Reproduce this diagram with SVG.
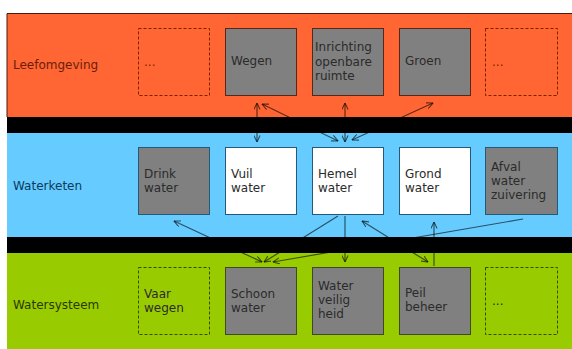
<svg xmlns="http://www.w3.org/2000/svg" width="572" height="349" viewBox="0 0 572 349">
<defs>
<style>
.lbl{font-family:"DejaVu Sans","Verdana",sans-serif;font-size:12px}
.bt{font-family:"DejaVu Sans","Verdana",sans-serif;font-size:12px;fill:#2b2b2b}
.gray{fill:#808080}
.white{fill:#ffffff}
.o{stroke:#5a2616;stroke-width:1}
.b{stroke:#24597a;stroke-width:1}
.g{stroke:#3e4a22;stroke-width:1}
.dash-o{fill:none;stroke:#7a2200;stroke-width:1;stroke-dasharray:3 2}
.dash-g{fill:none;stroke:#3a4800;stroke-width:1;stroke-dasharray:3 2}
.con{fill:none;stroke:#000;stroke-opacity:0.6;stroke-width:1.2}
</style>
<marker id="arr" viewBox="0 0 8 8" refX="7.5" refY="4" markerWidth="7" markerHeight="7" markerUnits="userSpaceOnUse" orient="auto-start-reverse">
<path d="M0,0.5 L7.5,4 L0,7.5" fill="none" stroke="#000" stroke-opacity="0.6" stroke-width="1.3"/>
</marker>
</defs>
<rect width="572" height="349" fill="#ffffff"/>
<g id="bands">
<rect x="7" y="13" width="565" height="104" fill="#ff6633"/>
<path d="M7,117 V13.5 H572" fill="none" stroke="#4a1a10" stroke-width="1"/>
<rect x="7" y="133" width="565" height="104" fill="#66ccff"/>
<rect x="7" y="253" width="565" height="96" fill="#99cc00"/>
</g>
<g id="connectors">
<line class="con" x1="257" y1="103" x2="257" y2="142" marker-start="url(#arr)" marker-end="url(#arr)"/>
<line class="con" x1="262" y1="104" x2="338" y2="141" marker-start="url(#arr)" marker-end="url(#arr)"/>
<line class="con" x1="345" y1="103" x2="345" y2="142" marker-start="url(#arr)" marker-end="url(#arr)"/>
<line class="con" x1="433" y1="103" x2="352" y2="140" marker-start="url(#arr)" marker-end="url(#arr)"/>
<line class="con" x1="174" y1="221" x2="262" y2="262" marker-start="url(#arr)" marker-end="url(#arr)"/>
<line class="con" x1="338" y1="216" x2="264" y2="262" marker-end="url(#arr)"/>
<line class="con" x1="345" y1="216" x2="345" y2="262" marker-end="url(#arr)"/>
<line class="con" x1="362" y1="221" x2="428" y2="262" marker-start="url(#arr)" marker-end="url(#arr)"/>
<line class="con" x1="434" y1="266" x2="434" y2="222" marker-end="url(#arr)"/>
<line class="con" x1="523" y1="219" x2="273" y2="262" marker-end="url(#arr)"/>
</g>
<g id="separators">
<rect x="7" y="117" width="565" height="16" fill="#000000"/>
<rect x="7" y="237" width="565" height="16" fill="#000000"/>
</g>
<g id="label-leefomgeving"><text class="lbl" x="13" y="69" fill="#6a1d0c">Leefomgeving</text></g>
<g id="label-waterketen"><text class="lbl" x="13" y="190" fill="#0b3a5c">Waterketen</text></g>
<g id="label-watersysteem"><text class="lbl" x="13" y="309" fill="#2a3800">Watersysteem</text></g>

<g id="node-leef-more1"><rect class="dash-o" x="138.5" y="28.5" width="71" height="67"/><text class="bt" x="144" y="66" fill="#7a2200" style="fill:#7a2200">...</text></g>
<g id="node-wegen"><rect class="gray o" x="225.5" y="28.5" width="71" height="67"/><text class="bt" x="231" y="65">Wegen</text></g>
<g id="node-inrichting"><rect class="gray o" x="312.5" y="28.5" width="71" height="67"/><text class="bt" x="315" y="51">Inrichting</text><text class="bt" x="315" y="65.5">openbare</text><text class="bt" x="315" y="80">ruimte</text></g>
<g id="node-groen"><rect class="gray o" x="399.5" y="28.5" width="71" height="67"/><text class="bt" x="405" y="65">Groen</text></g>
<g id="node-leef-more2"><rect class="dash-o" x="485.5" y="28.5" width="72" height="67"/><text class="bt" x="492" y="66" style="fill:#7a2200">...</text></g>

<g id="node-drinkwater"><rect class="gray b" x="138.5" y="147.5" width="71" height="67"/><text class="bt" x="144" y="178">Drink</text><text class="bt" x="144" y="192">water</text></g>
<g id="node-vuilwater"><rect class="white b" x="225.5" y="147.5" width="71" height="67"/><text class="bt" x="231" y="178">Vuil</text><text class="bt" x="231" y="192">water</text></g>
<g id="node-hemelwater"><rect class="white b" x="312.5" y="147.5" width="71" height="67"/><text class="bt" x="318" y="178">Hemel</text><text class="bt" x="318" y="192">water</text></g>
<g id="node-grondwater"><rect class="white b" x="399.5" y="147.5" width="71" height="67"/><text class="bt" x="405" y="178">Grond</text><text class="bt" x="405" y="192">water</text></g>
<g id="node-afvalwater"><rect class="gray b" x="485.5" y="147.5" width="72" height="67"/><text class="bt" x="491" y="171">Afval</text><text class="bt" x="491" y="185">water</text><text class="bt" x="491" y="199">zuivering</text></g>

<g id="node-vaarwegen"><rect class="dash-g" x="138.5" y="267.5" width="71" height="67"/><text class="bt" x="144" y="298">Vaar</text><text class="bt" x="144" y="312">wegen</text></g>
<g id="node-schoonwater"><rect class="gray g" x="225.5" y="267.5" width="71" height="67"/><text class="bt" x="231" y="298">Schoon</text><text class="bt" x="231" y="312">water</text></g>
<g id="node-waterveiligheid"><rect class="gray g" x="312.5" y="267.5" width="71" height="67"/><text class="bt" x="318" y="290">Water</text><text class="bt" x="318" y="304">veilig</text><text class="bt" x="318" y="318">heid</text></g>
<g id="node-peilbeheer"><rect class="gray g" x="399.5" y="267.5" width="71" height="67"/><text class="bt" x="405" y="297">Peil</text><text class="bt" x="405" y="311">beheer</text></g>
<g id="node-sys-more"><rect class="dash-g" x="485.5" y="267.5" width="72" height="67"/><text class="bt" x="492" y="305">...</text></g>
</svg>
